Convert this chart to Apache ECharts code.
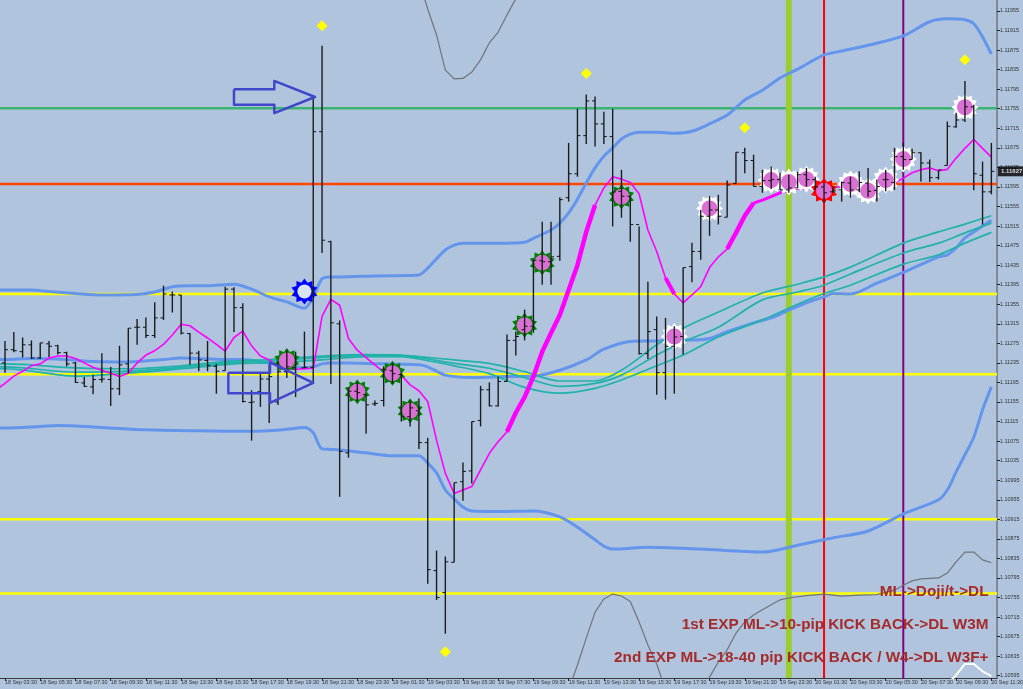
<!DOCTYPE html>
<html><head><meta charset="utf-8">
<style>html,body{margin:0;padding:0;background:#B0C4DE}#c{width:1023px;height:689px}</style>
<script src="https://cdn.jsdelivr.net/npm/echarts@6/dist/echarts.min.js"></script>
</head><body><div id="c"></div>
<script>
const xTickLabels=["18 Sep 03:30","18 Sep 05:30","18 Sep 07:30","18 Sep 09:30","18 Sep 11:30","18 Sep 13:30","18 Sep 15:30","18 Sep 17:30","18 Sep 19:30","18 Sep 21:30","18 Sep 23:30","19 Sep 01:30","19 Sep 03:30","19 Sep 05:30","19 Sep 07:30","19 Sep 09:30","19 Sep 11:30","19 Sep 13:30","19 Sep 15:30","19 Sep 17:30","19 Sep 19:30","19 Sep 21:30","19 Sep 23:30","20 Sep 01:30","20 Sep 03:30","20 Sep 05:30","20 Sep 07:30","20 Sep 09:30","20 Sep 11:30"];
const yTickValues=[1.11955,1.11915,1.11875,1.11835,1.11795,1.11755,1.11715,1.11675,1.11635,1.11595,1.11555,1.11515,1.11475,1.11435,1.11395,1.11355,1.11315,1.11275,1.11235,1.11195,1.11155,1.11115,1.11075,1.11035,1.10995,1.10955,1.10915,1.10875,1.10835,1.10795,1.10755,1.10715,1.10675,1.10635,1.10595];

const opens=[1.11235,1.11262,1.11258,1.11272,1.11245,1.11274,1.11270,1.11256,1.11235,1.11194,1.11186,1.11201,1.11201,1.11182,1.11233,1.11308,1.11308,1.11291,1.11327,1.11374,1.11374,1.11295,1.11255,1.11240,1.11228,1.11219,1.11386,1.11348,1.11154,1.11176,1.11202,1.11155,1.11217,1.11225,1.11225,1.11226,1.11708,1.11483,1.11315,1.11051,1.11177,1.11170,1.11151,1.11158,1.11219,1.11211,1.11125,1.11137,1.11072,1.10810,1.10765,1.10827,1.10992,1.11014,1.11117,1.11180,1.11147,1.11197,1.11281,1.11303,1.11310,1.11444,1.11442,1.11453,1.11573,1.11622,1.11700,1.11771,1.11724,1.11698,1.11586,1.11576,1.11518,1.11254,1.11303,1.11215,1.11269,1.11289,1.11432,1.11463,1.11535,1.11548,1.11533,1.11602,1.11665,1.11649,1.11596,1.11608,1.11610,1.11589,1.11593,1.11620,1.11610,1.11595,1.11585,1.11589,1.11603,1.11589,1.11603,1.11588,1.11610,1.11604,1.11657,1.11651,1.11665,1.11644,1.11614,1.11639,1.11718,1.11732,1.11759,1.11619,1.11585];
const highs=[1.11280,1.11298,1.11287,1.11281,1.11276,1.11280,1.11272,1.11258,1.11237,1.11206,1.11211,1.11255,1.11227,1.11270,1.11306,1.11325,1.11328,1.11359,1.11393,1.11381,1.11374,1.11296,1.11260,1.11280,1.11233,1.11391,1.11390,1.11357,1.11179,1.11214,1.11231,1.11238,1.11262,1.11258,1.11299,1.11782,1.11884,1.11485,1.11322,1.11184,1.11196,1.11170,1.11158,1.11228,1.11235,1.11215,1.11158,1.11162,1.11082,1.10851,1.10839,1.10990,1.11031,1.11115,1.11188,1.11195,1.11207,1.11293,1.11299,1.11344,1.11446,1.11524,1.11524,1.11574,1.11685,1.11755,1.11784,1.11780,1.11749,1.11755,1.11630,1.11576,1.11514,1.11401,1.11330,1.11327,1.11310,1.11430,1.11481,1.11548,1.11577,1.11579,1.11608,1.11666,1.11675,1.11661,1.11630,1.11637,1.11624,1.11620,1.11626,1.11634,1.11616,1.11604,1.11596,1.11606,1.11616,1.11627,1.11634,1.11610,1.11630,1.11675,1.11686,1.11673,1.11666,1.11651,1.11630,1.11729,1.11747,1.11812,1.11763,1.11647,1.11685];
const lows=[1.11215,1.11257,1.11246,1.11243,1.11243,1.11247,1.11252,1.11228,1.11194,1.11186,1.11171,1.11195,1.11147,1.11169,1.11214,1.11272,1.11286,1.11286,1.11323,1.11338,1.11293,1.11231,1.11218,1.11218,1.11172,1.11219,1.11298,1.11154,1.11076,1.11145,1.11112,1.11149,1.11204,1.11165,1.11224,1.11194,1.11460,1.11192,1.10961,1.11041,1.11156,1.11090,1.11147,1.11146,1.11192,1.11115,1.11105,1.11059,1.10783,1.10750,1.10681,1.10827,1.10953,1.10988,1.11105,1.11146,1.11146,1.11197,1.11250,1.11281,1.11297,1.11395,1.11395,1.11444,1.11565,1.11616,1.11683,1.11678,1.11683,1.11514,1.11532,1.11483,1.11252,1.11243,1.11170,1.11160,1.11172,1.11252,1.11400,1.11446,1.11495,1.11518,1.11533,1.11602,1.11623,1.11596,1.11583,1.11591,1.11589,1.11583,1.11593,1.11596,1.11589,1.11563,1.11583,1.11565,1.11573,1.11584,1.11575,1.11565,1.11586,1.11589,1.11630,1.11651,1.11606,1.11605,1.11610,1.11639,1.11716,1.11728,1.11588,1.11518,1.11580];
const closes=[1.11262,1.11260,1.11272,1.11245,1.11276,1.11269,1.11256,1.11233,1.11195,1.11187,1.11201,1.11202,1.11182,1.11231,1.11306,1.11308,1.11291,1.11327,1.11376,1.11374,1.11296,1.11255,1.11241,1.11229,1.11218,1.11386,1.11348,1.11156,1.11155,1.11202,1.11207,1.11217,1.11227,1.11209,1.11226,1.11708,1.11486,1.11317,1.11054,1.11177,1.11174,1.11149,1.11152,1.11221,1.11213,1.11125,1.11143,1.11072,1.10812,1.10755,1.10828,1.10990,1.11013,1.11115,1.11180,1.11147,1.11197,1.11281,1.11289,1.11310,1.11445,1.11442,1.11452,1.11569,1.11622,1.11700,1.11771,1.11724,1.11698,1.11585,1.11576,1.11518,1.11254,1.11299,1.11215,1.11269,1.11288,1.11430,1.11463,1.11535,1.11548,1.11535,1.11599,1.11666,1.11649,1.11596,1.11608,1.11610,1.11589,1.11593,1.11620,1.11610,1.11595,1.11583,1.11587,1.11604,1.11589,1.11604,1.11586,1.11596,1.11610,1.11657,1.11651,1.11665,1.11644,1.11614,1.11630,1.11719,1.11732,1.11759,1.11622,1.11585,1.11627];

const bandUpper=[[-1,1.11384],[0,1.11384],[3,1.11384],[5,1.11381],[8,1.11377],[11,1.11374],[15,1.11375],[17,1.11380],[19,1.11391],[21,1.11393],[23,1.11393],[26,1.11396],[28,1.11386],[30,1.11370],[32,1.11360],[34,1.11347],[35,1.11370],[36,1.11407],[37,1.11411],[38,1.11411],[42,1.11413],[46,1.11414],[47,1.11415],[48,1.11429],[49,1.11448],[50,1.11466],[51,1.11476],[52,1.11480],[56,1.11480],[59,1.11482],[60,1.11490],[62,1.11507],[63,1.11521],[64,1.11542],[65,1.11570],[66,1.11603],[67,1.11634],[68,1.11658],[69,1.11675],[70,1.11693],[71,1.11703],[72,1.11707],[74,1.11707],[76,1.11705],[78,1.11709],[80,1.11724],[82,1.11742],[84,1.11773],[86,1.11793],[88,1.11818],[90,1.11836],[93,1.11865],[95,1.11873],[98,1.11885],[102,1.11904],[105,1.11933],[107,1.11939],[109,1.11937],[110,1.11929],[111,1.11902],[112,1.11867]];
const bandMiddle=[[-1,1.11242],[0,1.11242],[3,1.11244],[7,1.11242],[10,1.11238],[14,1.11237],[18,1.11242],[20,1.11245],[25,1.11242],[27,1.11242],[30,1.11235],[32,1.11231],[34,1.11225],[35,1.11227],[36,1.11233],[37,1.11235],[39,1.11235],[41,1.11234],[47,1.11231],[48,1.11227],[50,1.11210],[53,1.11205],[57,1.11207],[60,1.11208],[63,1.11220],[66,1.11241],[68,1.11263],[71,1.11279],[74,1.11280],[76,1.11282],[78,1.11282],[80,1.11285],[82,1.11299],[85,1.11317],[87,1.11327],[89,1.11343],[91,1.11358],[93,1.11370],[94,1.11377],[96,1.11376],[99,1.11398],[102,1.11420],[106,1.11452],[107,1.11456],[108,1.11470],[109,1.11491],[110,1.11503],[111,1.11515],[112,1.11527]];
const bandLower=[[-1,1.11102],[0,1.11102],[4,1.11105],[6,1.11107],[11,1.11103],[16,1.11098],[22,1.11096],[28,1.11095],[32,1.11099],[34,1.11103],[35,1.11092],[36,1.11059],[37,1.11058],[38,1.11057],[41,1.11051],[44,1.11045],[47,1.11045],[48,1.11030],[49,1.11010],[50,1.10975],[51,1.10957],[52,1.10940],[53,1.10932],[56,1.10931],[60,1.10932],[63,1.10920],[65,1.10899],[67,1.10873],[68,1.10860],[69,1.10854],[73,1.10858],[79,1.10854],[86,1.10848],[90,1.10862],[94,1.10877],[98,1.10891],[102,1.10926],[106,1.10955],[107,1.10975],[108,1.11012],[109,1.11047],[110,1.11083],[111,1.11139],[112,1.11186]];

const tealBars=[-1,0,8,14,20,26,30,36,41,45,47,51,55,59,63,67,70,74,77,81,86,90,93,96,102,106,109,112];
const tealA=[1.11233,1.11233,1.11225,1.11223,1.11229,1.11239,1.11242,1.11249,1.11252,1.11251,1.11248,1.11241,1.11234,1.11217,1.11198,1.11198,1.11220,1.11272,1.11306,1.11339,1.11378,1.11396,1.11411,1.11431,1.11480,1.11503,1.11519,1.11536];
const tealB=[1.11227,1.11227,1.11216,1.11218,1.11226,1.11236,1.11239,1.11246,1.11250,1.11250,1.11246,1.11234,1.11224,1.11205,1.11187,1.11193,1.11210,1.11251,1.11278,1.11308,1.11364,1.11380,1.11394,1.11417,1.11460,1.11480,1.11501,1.11521];
const tealC=[1.11223,1.11223,1.11208,1.11214,1.11223,1.11233,1.11235,1.11241,1.11248,1.11248,1.11243,1.11229,1.11213,1.11185,1.11173,1.11183,1.11200,1.11229,1.11251,1.11288,1.11323,1.11355,1.11377,1.11394,1.11437,1.11456,1.11480,1.11502];

const magentaBefore=1.11180;
const magenta=[1.11193,1.11208,1.11218,1.11229,1.11233,1.11245,1.11249,1.11249,1.11244,1.11235,1.11226,1.11220,1.11214,1.11207,1.11214,1.11235,1.11251,1.11260,1.11273,1.11292,1.11314,1.11311,1.11298,1.11286,1.11273,1.11259,1.11287,1.11300,1.11270,1.11249,1.11241,1.11227,1.11222,1.11222,1.11223,1.11224,1.11330,1.11365,1.11353,1.11285,1.11261,1.11246,1.11231,1.11216,1.11213,1.11210,1.11190,1.11178,1.11156,1.11077,1.11009,1.10968,1.10975,1.10982,1.11016,1.11050,1.11074,1.11094,1.11133,1.11165,1.11207,1.11258,1.11296,1.11333,1.11384,1.11435,1.11503,1.11558,1.11593,1.11616,1.11611,1.11604,1.11581,1.11507,1.11463,1.11409,1.11376,1.11358,1.11374,1.11391,1.11430,1.11452,1.11468,1.11501,1.11536,1.11562,1.11568,1.11575,1.11583,1.11588,1.11591,1.11591,1.11593,1.11595,1.11595,1.11595,1.11593,1.11593,1.11595,1.11597,1.11603,1.11603,1.11613,1.11624,1.11630,1.11634,1.11628,1.11631,1.11654,1.11674,1.11692,1.11674,1.11656];
const magentaThickSpans=[[57,67,4.5],[75,76,4],[82,85,4.5],[85,89,3]];

const grayTop=[[47,1.12018],[48,1.11959],[49,1.11906],[50,1.11834],[51,1.11816],[52,1.11817],[53,1.11830],[54,1.11855],[55,1.11890],[56,1.11912],[57,1.11947],[58,1.11980]];
const grayHump=[[64,1.10566],[65,1.10617],[66,1.10672],[67,1.10725],[68,1.10752],[69,1.10762],[70,1.10758],[71,1.10747],[72,1.10705],[73,1.10658],[74,1.10619],[75,1.10566]];
const grayRise=[[79,1.10566],[80,1.10592],[81,1.10623],[82,1.10648],[83,1.10682],[84,1.10705],[85,1.10719],[86,1.10730],[87,1.10740],[88,1.10750],[89,1.10754],[91,1.10759],[93,1.10762],[95,1.10758],[97,1.10760],[99,1.10761],[101,1.10770],[102,1.10780],[103,1.10789],[104,1.10793],[106,1.10795],[107,1.10805],[108,1.10828],[109,1.10848],[110,1.10848],[111,1.10832],[112,1.10826]];
const whiteTail=[[107,1.10578],[108,1.10596],[109,1.10619],[110,1.10619],[111,1.10604],[112,1.10594]];

const xMin=-0.568, xMax=112.64, yMin=1.105903, yMax=1.119775;
const levelYellow=[1.11376,1.11212,1.10915,1.10763];
const levelGreen=1.11756;
const levelOrange=1.11601;
const vLimeBar=89, vRedBar=93, vPurpleBar=102;

const diamonds=[[36,1.11925],[66,1.11827],[84,1.11716],[109,1.11855],[50,1.10644]];
const signalsGreen=[[32,1.11240],[40,1.11176],[44,1.11214],[46,1.11137],[59,1.11312],[61,1.11440],[70,1.11575]];
const signalsWhite=[[76,1.11289],[80,1.11551],[87,1.11609],[89,1.11605],[91,1.11611],[96,1.11601],[98,1.11587],[100,1.11609],[102,1.11652],[109,1.11758]];
const signalsRed=[[93,1.11587]];
const signalsBlue=[[34,1.11381]];

const arrowTop=[[26,1.11795],[30.58,1.11795],[30.58,1.11812],[35.2,1.11779],[30.58,1.11746],[30.58,1.11763],[26,1.11763],[26,1.11795]];
const arrowBottom=[[25.36,1.11215],[30.09,1.11215],[30.09,1.11236],[35,1.11194],[30.09,1.11153],[30.09,1.11173],[25.36,1.11173],[25.36,1.11215]];

const lastPrice=1.11627;
const notes=["ML->Doji/t->DL","1st EXP ML->10-pip KICK BACK->DL W3M","2nd EXP ML->18-40 pip KICK BACK / W4->DL W3F+"];

function burst(n,inner){
  let d='';
  for(let k=0;k<2*n;k++){
    const r=k%2?inner:50,a=Math.PI*k/n-Math.PI/2;
    d+=(k?'L':'M')+(50+r*Math.cos(a)).toFixed(2)+' '+(50+r*Math.sin(a)).toFixed(2);
  }
  return 'path://'+d+'Z';
}
const line=(data,color,width,z,smooth)=>({type:'line',data,showSymbol:false,symbol:'none',smooth:smooth||false,z,silent:true,
  lineStyle:{color,width,join:'round'},animation:false});
const scatter=(data,symbol,size,color,z)=>({type:'scatter',data,symbol,symbolSize:size,z,silent:true,itemStyle:{color,opacity:1},animation:false});
const hLine=(v,color,width)=>line([[xMin,v],[xMax,v]],color,width,1);
const vLine=(b,color,width)=>line([[b,yMin],[b,yMax]],color,width,2);
const magentaData=magenta.map((v,i)=>[i,v]);
const zip=a=>a.map((v,i)=>[tealBars[i],v]);

const barData=opens.map((o,i)=>[i,o,highs[i],lows[i],closes[i]]);
const priceBars={type:'custom',z:12,silent:true,animation:false,clip:true,data:barData,encode:{x:0,y:[1,2,3,4]},
  renderItem(p,api){
    const i=api.value(0),a=api.coord([i,api.value(1)]),h=api.coord([i,api.value(2)]),l=api.coord([i,api.value(3)]),c=api.coord([i,api.value(4)]);
    const st={stroke:'#1c1c1c',lineWidth:1.4},tk={stroke:'#141414',lineWidth:1};
    return {type:'group',children:[
      {type:'line',shape:{x1:h[0],y1:h[1],x2:l[0],y2:l[1]},style:st},
      {type:'line',shape:{x1:a[0]-3,y1:a[1],x2:a[0],y2:a[1]},style:tk},
      {type:'line',shape:{x1:c[0],y1:c[1],x2:c[0]+3,y2:c[1]},style:tk}
    ]};
  }};

const chart=echarts.init(document.getElementById('c'),null,{renderer:'canvas'});
chart.setOption({
  animation:false,backgroundColor:'#B0C4DE',
  grid:{left:0,top:0,right:26,bottom:11,containLabel:false,outerBoundsMode:'none'},
  xAxis:{type:'value',min:xMin,max:xMax,splitLine:{show:false},
    axisLine:{show:true,onZero:false,lineStyle:{color:'#3a3a3a',width:1}},
    axisTick:{show:true,length:3,lineStyle:{color:'#222'},customValues:xTickLabels.map((_,i)=>i*4)},
    axisLabel:{show:true,customValues:xTickLabels.map((_,i)=>i*4),formatter:v=>xTickLabels[Math.round(v/4)]||'',
      align:'left',margin:2,fontSize:5.4,color:'#333',fontFamily:'Liberation Sans',hideOverlap:false}},
  yAxis:{type:'value',position:'right',min:yMin,max:yMax,scale:true,splitLine:{show:false},
    axisLine:{show:true,onZero:false,lineStyle:{color:'#7f8a99',width:2}},
    axisTick:{show:true,length:3,lineStyle:{color:'#222'},customValues:yTickValues},
    axisLabel:{show:true,customValues:yTickValues,formatter:v=>v.toFixed(5),margin:3,fontSize:5.4,color:'#333',fontFamily:'Liberation Sans'}},
  series:[
    ...levelYellow.map(v=>hLine(v,'#FFFF00',2.5)),
    hLine(levelGreen,'#3CB371',2.5),
    hLine(levelOrange,'#FF4500',2.5),
    vLine(vLimeBar,'#9ACD32',6),
    vLine(vRedBar,'#FF0000',2),
    vLine(vPurpleBar,'#800080',2),
    line(bandUpper,'#6495ED',3,3,0.3),
    line(bandMiddle,'#6495ED',3,3,0.3),
    line(bandLower,'#6495ED',3,3,0.3),
    line(zip(tealA),'#20B2AA',1.7,4,0.3),
    line(zip(tealB),'#20B2AA',1.7,4,0.3),
    line(zip(tealC),'#20B2AA',1.7,4,0.3),
    line(grayTop,'#6f7378',1.2,5),
    line(grayHump,'#6f7378',1.2,5),
    line(grayRise,'#6f7378',1.2,5),
    line(whiteTail,'#FFFFFF',2,5),
    line([[-1,magentaBefore],...magentaData],'#FF00FF',1.6,6),
    ...magentaThickSpans.map(s=>line(magentaData.slice(s[0],s[1]+1),'#FF00FF',s[2],6)),
    scatter(signalsGreen,burst(10,36),25,'#008000',8),
    scatter(signalsWhite,burst(12,38),27,'#FFFFFF',8),
    scatter(signalsRed,burst(10,36),26,'#FF0000',8),
    scatter(signalsBlue,burst(10,36),26,'#0000FF',8),
    scatter(signalsBlue,'circle',14,'#D8E4F2',9),
    scatter([...signalsGreen,...signalsWhite,...signalsRed],'circle',16,'#DA70D6',9),
    priceBars,
    scatter(diamonds,'diamond',11,'#FFFF00',13),
    line(arrowTop,'#3F48CC',2.5,14),
    line(arrowBottom,'#3F48CC',2.5,14),
    {type:'scatter',data:[[xMax,lastPrice]],symbolSize:0,z:15,silent:true,clip:false,
      label:{show:true,position:'right',distance:1,formatter:p=>p.value[1].toFixed(5),color:'#fff',backgroundColor:'#000',
        fontSize:6,fontWeight:'bold',fontFamily:'Liberation Sans',padding:[2,3,2,3]}}
  ],
  graphic:notes.map((t,i)=>({type:'text',z:100,silent:true,x:988.5,y:[592,624.5,658][i],
    style:{text:t,align:'right',verticalAlign:'middle',fill:'#A52A2A',font:'bold 15.3px "Liberation Sans"'}}))
});
</script></body></html>
